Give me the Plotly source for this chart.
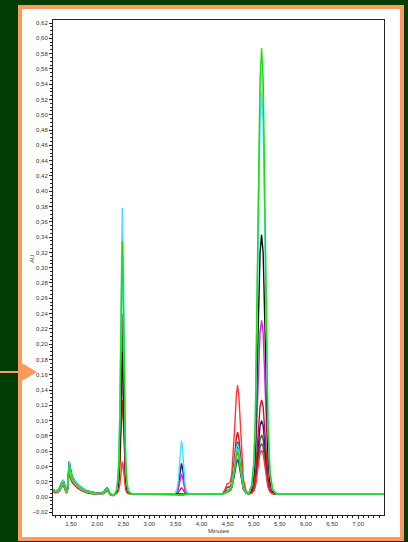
import plotly.graph_objects as go

# ---- data ----
BASE = 0.004

# early region (1.15 - 2.32 min), reference profile
EARLY_T = [1.154, 1.20, 1.25, 1.29, 1.32, 1.35, 1.38, 1.41, 1.43, 1.45, 1.465,
           1.48, 1.50, 1.53, 1.57, 1.62, 1.70, 1.80, 1.90, 2.00, 2.08, 2.13,
           2.17, 2.19, 2.21, 2.24, 2.28, 2.32]
EARLY_Y = [0.010, 0.008, 0.009, 0.013, 0.019, 0.022, 0.015, 0.007, 0.011, 0.030,
           0.046, 0.040, 0.032, 0.026, 0.021, 0.017, 0.012, 0.008, 0.006, 0.005,
           0.005, 0.007, 0.011, 0.012, 0.010, 0.005, 0.003, 0.003]

# peak A (~2.48 min)
A_T = [2.34, 2.38, 2.41, 2.435, 2.45, 2.465, 2.48, 2.495, 2.51, 2.525, 2.545, 2.57, 2.60, 2.66]
A_SHAPE = [0.0, 0.02, 0.10, 0.30, 0.56, 0.88, 1.0, 0.88, 0.58, 0.32, 0.13, 0.04, 0.01, 0.0]

# peak B (~3.62 min)
B_T = [3.48, 3.52, 3.55, 3.57, 3.59, 3.615, 3.64, 3.66, 3.68, 3.71, 3.76]
B_SHAPE = [0.0, 0.05, 0.2, 0.45, 0.8, 1.0, 0.8, 0.45, 0.2, 0.05, 0.0]

# peak C (~4.69 min) with small shoulder at ~4.49
C_T = [4.40, 4.45, 4.49, 4.52, 4.55, 4.58, 4.61, 4.64, 4.665, 4.69, 4.715,
       4.74, 4.77, 4.80, 4.85, 4.90]
C_SHAPE = [0.0, 0.0, 0.01, 0.03, 0.08, 0.18, 0.38, 0.66, 0.90, 1.0, 0.90,
           0.66, 0.36, 0.14, 0.03, 0.0]
C_SHOULDER = [0.0, 0.5, 1.0, 0.8, 0.4, 0.1, 0.0, 0.0, 0.0, 0.0, 0.0,
              0.0, 0.0, 0.0, 0.0, 0.0]

# peak D (~5.15 min)
D_T = [4.90, 4.96, 5.00, 5.03, 5.06, 5.09, 5.12, 5.15, 5.18, 5.21, 5.24,
       5.27, 5.31, 5.36, 5.44]
D_SHAPE = [0.0, 0.02, 0.07, 0.17, 0.38, 0.68, 0.93, 1.0, 0.93, 0.68, 0.38,
           0.17, 0.05, 0.01, 0.0]

GAP1_T = [2.80, 3.05, 3.30]
GAP2_T = [3.90, 4.10, 4.30]
TAIL_T = [5.60, 6.00, 6.50, 7.00, 7.52]

# per-injection traces
COLORS = ["#8b4a3a", "#2e6b2e", "#1f1f8f", "#e020e0", "#d0101a", "#ff3535",
          "#111111", "#8fe88f", "#40e4f4", "#14e014"]
EARLY_SCALE = [0.9, 0.85, 1.0, 0.85, 0.7, 0.75, 1.0, 0.85, 1.0, 0.9]
APEX_A = [0.240, 0.215, 0.170, 0.160, 0.127, 0.046, 0.190, 0.300, 0.378, 0.335]
APEX_B = [0.012, 0.002, 0.044, 0.030, 0.002, 0.002, 0.004, 0.003, 0.074, 0.003]
APEX_C = [0.050, 0.048, 0.072, 0.058, 0.085, 0.146, 0.068, 0.062, 0.070, 0.060]
APEX_S = [0.004, 0.002, 0.003, 0.002, 0.008, 0.012, 0.003, 0.002, 0.003, 0.002]
APEX_D = [0.070, 0.081, 0.100, 0.231, 0.127, 0.061, 0.343, 0.560, 0.528, 0.587]

# plot area in pixels (408x542 canvas)
L, R, T, B = 53, 384, 20, 515


def px(x):
    return (x - L) / (R - L)


def py(y):
    return (B - y) / (B - T)


fig = go.Figure()

for i, color in enumerate(COLORS):
    t = list(EARLY_T)
    y = [v * EARLY_SCALE[i] for v in EARLY_Y]
    t += A_T
    y += [BASE + (APEX_A[i] - BASE) * s for s in A_SHAPE]
    t += GAP1_T
    y += [BASE] * len(GAP1_T)
    t += B_T
    y += [BASE + (APEX_B[i] - BASE) * s for s in B_SHAPE]
    t += GAP2_T
    y += [BASE] * len(GAP2_T)
    t += C_T
    y += [BASE + (APEX_C[i] - BASE) * s + APEX_S[i] * sh for s, sh in zip(C_SHAPE, C_SHOULDER)]
    t += D_T
    y += [BASE + (APEX_D[i] - BASE) * s for s in D_SHAPE]
    t += TAIL_T
    y += [BASE] * len(TAIL_T)
    fig.add_trace(go.Scatter(x=t, y=y, mode="lines", line=dict(color=color, width=1.4),
                             showlegend=False, hoverinfo="skip"))

ORANGE = "#ff9a5c"
shapes = [
    dict(type="rect", xref="paper", yref="paper", x0=px(18), x1=px(404), y0=py(541), y1=py(5),
         fillcolor=ORANGE, line=dict(width=0), layer="below"),
    dict(type="rect", xref="paper", yref="paper", x0=px(22), x1=px(400), y0=py(537), y1=py(9),
         fillcolor="white", line=dict(width=0), layer="below"),
    dict(type="line", xref="paper", yref="paper", x0=px(0), x1=px(21), y0=py(372), y1=py(372),
         line=dict(color=ORANGE, width=2)),
    dict(type="path", xref="paper", yref="paper",
         path=f"M {px(20)},{py(362)} L {px(37)},{py(372)} L {px(20)},{py(382)} Z",
         fillcolor=ORANGE, line=dict(width=0)),
]

FONT = "Liberation Sans, Arial"
tickfont = dict(family=FONT, size=6, color="#333")

fig.update_layout(
    width=408, height=542,
    margin=dict(l=L, r=408 - R, t=T, b=542 - B, autoexpand=False),
    paper_bgcolor="#013d03",
    plot_bgcolor="white",
    separators=", ",
    shapes=shapes,
    annotations=[
        dict(text="AU", xref="paper", yref="paper", x=px(32), y=py(259), textangle=-90,
             xanchor="center", yanchor="middle",
             showarrow=False, font=dict(family=FONT, size=6, color="#333")),
        dict(text="Minutes", xref="paper", yref="paper", x=px(218), y=py(531),
             xanchor="center", yanchor="middle",
             showarrow=False, font=dict(family=FONT, size=6, color="#333")),
    ],
    xaxis=dict(
        range=[1.154, 7.495], tick0=1.5, dtick=0.5, tickformat=".2f",
        ticks="outside", ticklen=3, tickcolor="#222", tickfont=tickfont,
        minor=dict(dtick=0.1, ticks="outside", ticklen=2, tickcolor="#222"),
        showline=True, linecolor="#222", linewidth=1, mirror=True,
        showgrid=False, zeroline=False,
    ),
    yaxis=dict(
        range=[-0.0235, 0.624], tick0=0, dtick=0.02, tickformat=".2f",
        ticks="outside", ticklen=3, tickcolor="#222", tickfont=tickfont,
        minor=dict(dtick=0.005, ticks="outside", ticklen=2, tickcolor="#222"),
        showline=True, linecolor="#222", linewidth=1, mirror=True,
        showgrid=False, zeroline=False,
    ),
)

fig.write_html("out.html", config={"displayModeBar": False},
               post_script="document.body.style.margin='0';")
